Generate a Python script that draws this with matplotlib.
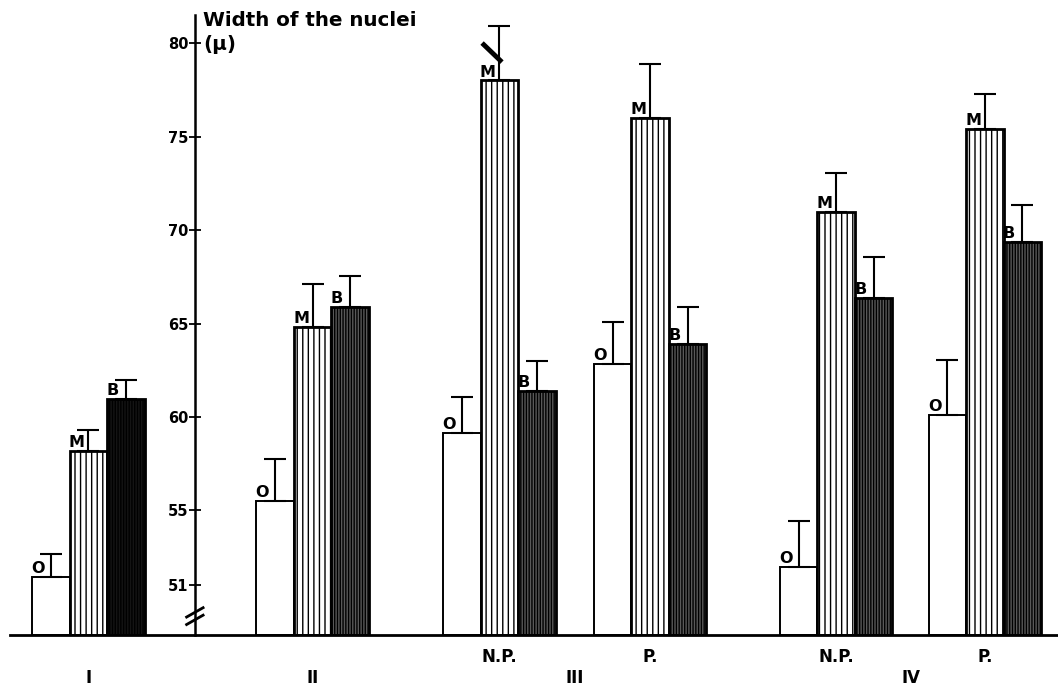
import numpy as np
import matplotlib.pyplot as plt

plt.rcParams['font.family'] = ['DejaVu Sans']
plt.rcParams['font.weight'] = 'bold'
plt.rcParams['hatch.linewidth'] = 1.0

# data
groups = ["I", "II", "III", "IV"]
sublabels = ["", "", "N.P.", "P.", "N.P.", "P."]
o_mean = [51.44, 55.51, 59.14, 62.83, 51.98, 60.10]
o_err = [1.23, 2.24, 1.93, 2.27, 2.46, 2.95]
m_mean = [58.20, 64.81, 78.00, 76.00, 70.96, 75.40]
m_err = [1.10, 2.30, 2.90, 2.90, 2.09, 1.90]
b_mean = [60.96, 65.88, 61.40, 63.90, 66.36, 69.36]
b_err = [1.04, 1.66, 1.60, 2.00, 2.20, 1.98]
yticks = [51, 55, 60, 65, 70, 75, 80]

# layout (x in bar widths)
centers = np.array([2.09, 8.07, 13.05, 17.07, 22.03, 26.0])
group_x = [2.09, 8.07, 15.06, 24.02]
yaxis_x = 4.93
y0 = 48.34
b_face = ['0.08', '0.35', '0.35', '0.35', '0.35', '0.35']

fig = plt.figure(figsize=(10.58, 6.93), dpi=100)
ax = fig.add_axes([10/1058, 58/693, 1048/1058, 620/693])
ax.set_xlim(0, 27.95)
ax.set_ylim(y0, 81.5)

series = [("O", -1, o_mean, o_err, ['white']*6, '', 1.4),
          ("M", 0, m_mean, m_err, ['white']*6, '|||', 2.0),
          ("B", 1, b_mean, b_err, b_face, '||||||', 2.0)]

for name, off, vals, errs, faces, hatch, lw in series:
    xs = centers + off
    vals = np.array(vals)
    ax.bar(xs, vals - y0, bottom=y0, width=1.0, color=faces,
           edgecolor='black', linewidth=lw, hatch=hatch, zorder=2)
    ax.errorbar(xs, vals, yerr=[np.zeros(len(vals)), errs], fmt='none',
                ecolor='black', elinewidth=1.5, capsize=8, capthick=1.5, zorder=3)
    for x, v in zip(xs, vals):
        ax.text(x - 0.52, v + 0.05, name, ha='left', va='bottom',
                fontsize=11.5, fontweight='bold', zorder=4)

# broken error bar mark on III N.P. M
cx, m = centers[2], m_mean[2]
ax.plot([cx - 0.46, cx + 0.07], [m + 2.0, m + 0.98], color='black',
        lw=3.5, solid_capstyle='butt', zorder=5)

# axes styling
for s in ['top', 'right']:
    ax.spines[s].set_visible(False)
ax.spines['left'].set_position(('data', yaxis_x))
ax.spines['left'].set_linewidth(1.8)
ax.spines['bottom'].set_linewidth(2)
ax.set_xticks([])
ax.set_yticks(yticks)
ax.set_yticklabels([str(t) for t in yticks], fontsize=10.5, fontweight='bold')
ax.tick_params(axis='y', direction='inout', length=9, width=1.3, pad=0)

# axis break
for yb in [49.55, 49.15]:
    ax.plot([yaxis_x - 0.22, yaxis_x + 0.22], [yb - 0.25, yb + 0.25],
            color='black', lw=2, clip_on=False, zorder=5)

ax.text(5.15, 81.23, "Width of the nuclei", ha='left', va='center',
        fontsize=14.3, fontweight='bold')
ax.text(5.15, 79.9, "(\u00b5)", ha='left', va='center',
        fontsize=14.3, fontweight='bold')

for x, lab in zip(centers, sublabels):
    if lab:
        ax.text(x, -0.035, lab, transform=ax.get_xaxis_transform(),
                ha='center', va='center', fontsize=12, fontweight='bold')
for x, lab in zip(group_x, groups):
    ax.text(x, -0.069, lab, transform=ax.get_xaxis_transform(),
            ha='center', va='center', fontsize=12, fontweight='bold')

fig.savefig('out.png', dpi=100)
